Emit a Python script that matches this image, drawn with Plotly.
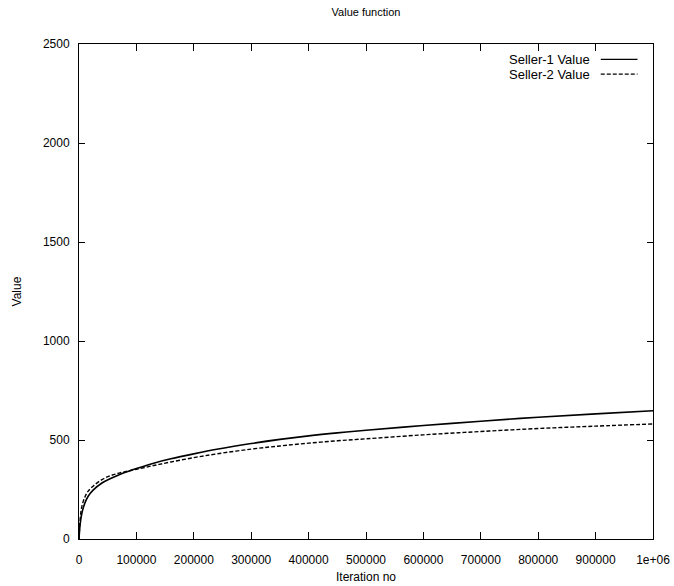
import plotly.graph_objects as go

iterations = [0, 2000, 5000, 10000, 16000, 25000, 40000, 55000, 70000, 85000, 100000,
              130000, 160000, 200000, 240000, 300000, 350000, 400000, 450000, 500000,
              600000, 700000, 800000, 900000, 1000000]
seller1_value = [0, 75, 130, 180, 216, 248, 283, 306, 325, 341, 356,
                 383, 405, 430, 453, 482, 503, 521, 536, 549,
                 573, 595, 615, 632, 648]
seller2_value = [0, 100, 165, 210, 242, 268, 300, 320, 333, 343, 352,
                 371, 389, 411, 430, 454, 470, 484, 496, 506,
                 526, 543, 558, 570, 581]

x_ticks = [0, 100000, 200000, 300000, 400000, 500000, 600000, 700000, 800000, 900000, 1000000]
x_tick_labels = ["0", "100000", "200000", "300000", "400000", "500000", "600000",
                 "700000", "800000", "900000", "1e+06"]
y_ticks = [0, 500, 1000, 1500, 2000, 2500]
series_names = ["Seller-1 Value", "Seller-2 Value"]

FONT = "Liberation Sans, Arial, sans-serif"

fig = go.Figure()
fig.add_trace(go.Scatter(x=iterations, y=seller1_value, mode="lines", name=series_names[0],
                         line=dict(color="black", width=1.6, shape="spline", smoothing=1.0),
                         showlegend=False))
fig.add_trace(go.Scatter(x=iterations, y=seller2_value, mode="lines", name=series_names[1],
                         line=dict(color="black", width=1.4, dash="4px,2px", shape="spline", smoothing=1.0),
                         showlegend=False))

# legend drawn gnuplot-style: text right-aligned, line sample on the right
legend_rows = [(0.969, "solid"), (0.939, "4px,2px")]
for (ypos, dash), name in zip(legend_rows, series_names):
    fig.add_annotation(x=0.893, y=ypos, xref="paper", yref="paper", text=name,
                       showarrow=False, xanchor="right", yanchor="middle",
                       font=dict(family=FONT, size=13, color="black"))
    fig.add_shape(type="line", xref="paper", yref="paper", x0=0.909, x1=0.973,
                  y0=ypos, y1=ypos, line=dict(color="black", width=1.2, dash=dash))

fig.update_layout(
    width=674, height=586,
    margin=dict(l=79, r=21, t=44, b=47, autoexpand=False),
    paper_bgcolor="white", plot_bgcolor="white",
    font=dict(family=FONT, size=12, color="black"),
    title=dict(text="Value function", x=366 / 674, xref="container", xanchor="center",
               y=0.979, yref="container", yanchor="middle", automargin=False,
               font=dict(family=FONT, size=11, color="black")),
)
fig.update_xaxes(range=[0, 1000000], tickvals=x_ticks, ticktext=x_tick_labels,
                 ticks="inside", ticklen=7, tickcolor="black", tickwidth=1,
                 showline=True, linecolor="black", linewidth=1, mirror="ticks",
                 showgrid=False, zeroline=False, ticklabelstandoff=10, automargin=False,
                 title=dict(text="Iteration no", standoff=6, font=dict(size=12)))
fig.update_yaxes(range=[0, 2500], tickvals=y_ticks,
                 ticks="inside", ticklen=6, tickcolor="black", tickwidth=1,
                 showline=True, linecolor="black", linewidth=1, mirror="ticks",
                 showgrid=False, zeroline=False, ticklabelstandoff=6, automargin=False,
                 title=dict(text="Value", standoff=18, font=dict(size=12)))

fig.write_html("out.html", config={"displayModeBar": False},
               post_script="document.body.style.margin='0';document.body.style.padding='0';")
